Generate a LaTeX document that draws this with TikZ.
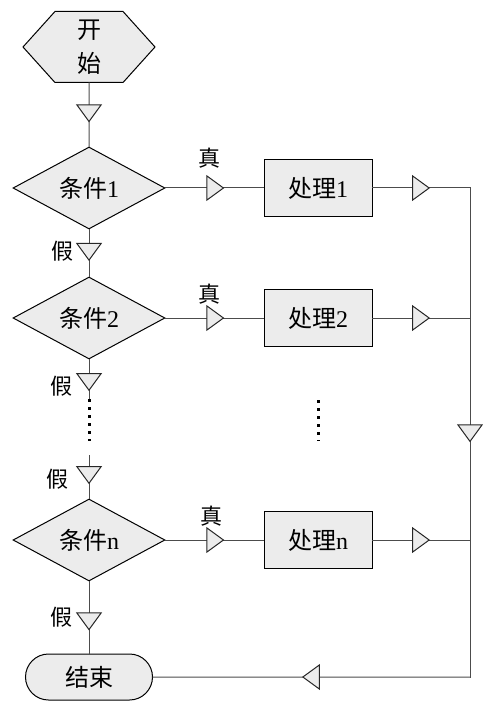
\documentclass[tikz,border=0pt]{standalone}
\usepackage{fontspec}
\setmainfont{Liberation Serif}
\newfontfamily\cjk{Noto Sans CJK SC}
\usetikzlibrary{shapes.geometric,shapes.misc,shapes.symbols,arrows.meta,decorations.markings}

\tikzset{
    tri/.tip={Triangle[length=18pt,width=26pt,color=black!85,fill=gray!15]},
    box/.style={draw, fill=gray!15, line width=1pt, inner sep=0pt,
        font=\cjk\fontsize{24}{34}\selectfont},
    cond/.style={box, diamond, aspect=1.85, minimum width=152pt, minimum height=82pt},
    proc/.style={box, rectangle, minimum width=108pt, minimum height=57pt},
    lbl/.style={inner sep=0pt, font=\cjk\fontsize{22}{26}\selectfont},
    flow/.style={draw=black!70, line width=1pt, line cap=rect, postaction=decorate,
        decoration={markings, mark=at position #1 with {\arrow{tri}}}},
    flow/.default=0.6,
    dotline/.style={line width=3pt, dash pattern=on 3pt off 5pt},
}

\begin{document}
\begin{tikzpicture}[x=1pt, y=-1pt]
    \useasboundingbox (0,0) rectangle (490,708);

    \node[box, signal, signal to=west and east, signal pointer angle=96,
        minimum width=132pt, minimum height=71pt, align=center] (S) at (89,47) {开\\始};
    \node[cond] (C1) at (89,188) {条件\textrm{1}};
    \node[cond] (C2) at (89,318) {条件\textrm{2}};
    \node[cond] (Cn) at (89,540) {条件\textrm{n}};
    \node[proc] (P1) at (318,188) {处理\textrm{1}};
    \node[proc] (P2) at (318,318) {处理\textrm{2}};
    \node[proc] (Pn) at (318,540) {处理\textrm{n}};
    \node[box, rounded rectangle, minimum width=127pt, minimum height=46pt] (T) at (89,677) {结束};

    \coordinate (J1) at (470,188);
    \coordinate (J2) at (470,318);
    \coordinate (Jn) at (470,540);
    \coordinate (K) at (470,677);
    \coordinate (G1) at (89,399);
    \coordinate (G2) at (89,441);
    \coordinate (G3) at (89,455);
    \coordinate (V1) at (318,400);
    \coordinate (V2) at (318,441);

    \draw[flow=0.62] (S) -- (C1);
    \draw[flow] (C1) -- node[lbl, pos=0.45, yshift=30pt] (t1) {真} (P1);
    \draw[flow] (C2) -- node[lbl, pos=0.45, yshift=24pt] (t2) {真} (P2);
    \draw[flow] (Cn) -- node[lbl, pos=0.47, yshift=24pt] (tn) {真} (Pn);
    \draw[flow=0.59] (P1) -- (J1);
    \draw[flow=0.59] (P2) -- (J2);
    \draw[flow=0.59] (Pn) -- (Jn);
    \draw[flow=0.67] (C1) -- node[lbl, pos=0.47, xshift=-27pt] (f1) {假} (C2);
    \draw[flow=0.8] (C2) -- node[lbl, pos=0.67, xshift=-28pt] (f2) {假} (G1);
    \draw[dotline] (G1) -- (G2);
    \draw[flow=0.67] (G3) -- node[lbl, pos=0.55, xshift=-32pt] (f3) {假} (Cn);
    \draw[flow=0.68] (Cn) -- node[lbl, pos=0.49, xshift=-28pt] (f4) {假} (T);
    \draw[flow=0.52] (J1) -- (K);
    \draw[flow=0.53] (K) -- (T);
    \draw[dotline] (V1) -- (V2);
\end{tikzpicture}
\end{document}
